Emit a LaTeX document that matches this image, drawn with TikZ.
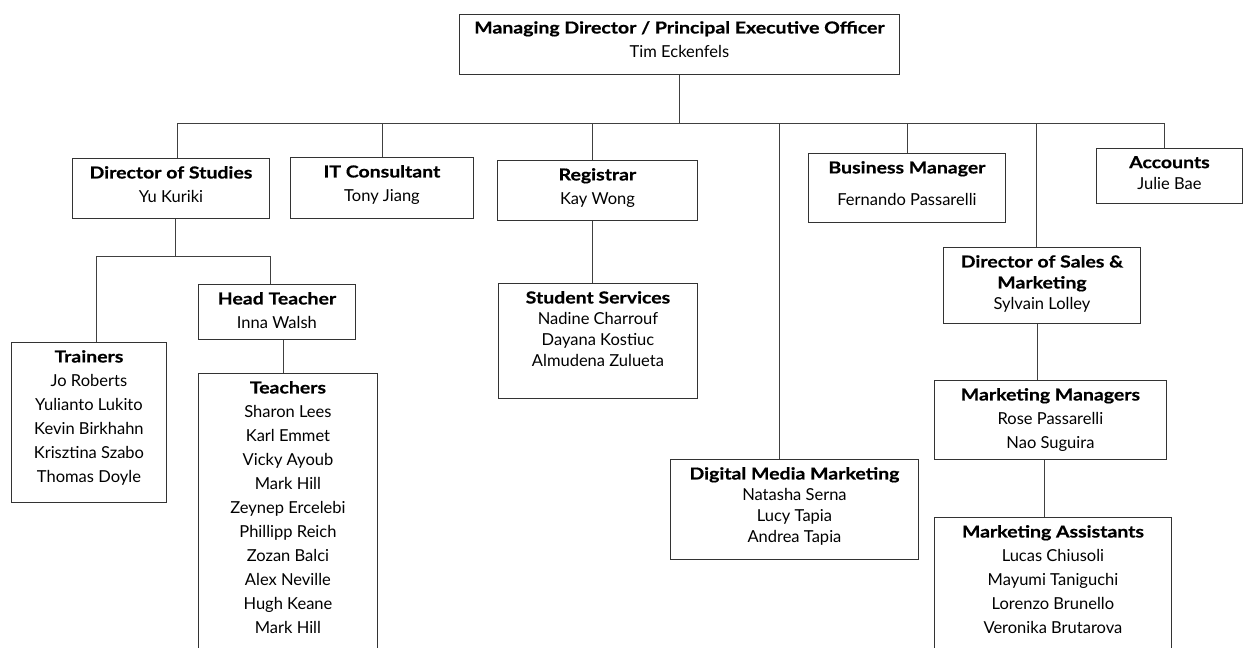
\documentclass[tikz,border=0pt]{standalone}
\usepackage{fontspec}
\setmainfont{Lato}[BoldFeatures={FakeStretch=1.18,FakeBold=0.6}]
\usetikzlibrary{positioning}
\tikzstyle{unit}=[draw=black!80, line width=0.9pt, anchor=north west, inner sep=0pt]
\tikzstyle{names}=[align=center, inner sep=0pt, font=\fontsize{16.5}{24}\selectfont]
\tikzstyle{tight}=[font=\fontsize{16.5}{21}\selectfont]
\tikzstyle{link}=[draw=black!75, line width=0.8pt]

\begin{document}
\begin{tikzpicture}[x=1pt, y=-1pt]
  \useasboundingbox (0,0) rectangle (1243,648);

  % boxes
  \node[unit, minimum width=440, minimum height=60] at (459,14) (md) {};
  \node[unit, minimum width=197, minimum height=60] at (72,158) (dos) {};
  \node[unit, minimum width=183, minimum height=61] at (290,157) (it) {};
  \node[unit, minimum width=200, minimum height=60] at (497,160) (reg) {};
  \node[unit, minimum width=197, minimum height=69] at (808,153) (bm) {};
  \node[unit, minimum width=146, minimum height=55] at (1096,148) (acc) {};
  \node[unit, minimum width=197, minimum height=76] at (943,247) (dosm) {};
  \node[unit, minimum width=155, minimum height=160] at (11,342) (tr) {};
  \node[unit, minimum width=157, minimum height=55] at (198,284) (ht) {};
  \node[unit, minimum width=179, minimum height=330] at (198,373) (tea) {};
  \node[unit, minimum width=199, minimum height=115] at (498,283) (ss) {};
  \node[unit, minimum width=248, minimum height=100] at (670,459) (dmm) {};
  \node[unit, minimum width=232, minimum height=79] at (934,380) (mm) {};
  \node[unit, minimum width=237, minimum height=183] at (934,517) (ma) {};

  % texts
  \node[names, below=7pt of md.north] (md-t) {\textbf{Managing Director / Principal Executive Officer}\\Tim Eckenfels};
  \node[names, below=8pt of dos.north] (dos-t) {\textbf{Director of Studies}\\Yu Kuriki};
  \node[names, below=8pt of it.north] (it-t) {\textbf{IT Consultant}\\Tony Jiang};
  \node[names, below=8pt of reg.north] (reg-t) {\textbf{Registrar}\\Kay Wong};
  \node[names, below=8pt of bm.north] (bm-t) {\textbf{Business Manager}\\[8pt]Fernando Passarelli};
  \node[names, tight, below=8pt of acc.north] (acc-t) {\textbf{Accounts}\\Julie Bae};
  \node[names, tight, below=8pt of dosm.north] (dosm-t) {\textbf{Director of Sales \&}\\\textbf{Marketing}\\Sylvain Lolley};
  \node[names, below=8pt of tr.north] (tr-t) {\textbf{Trainers}\\Jo Roberts\\Yulianto Lukito\\Kevin Birkhahn\\Krisztina Szabo\\Thomas Doyle};
  \node[names, below=8pt of ht.north] (ht-t) {\textbf{Head Teacher}\\Inna Walsh};
  \node[names, below=8pt of tea.north] (tea-t) {\textbf{Teachers}\\Sharon Lees\\Karl Emmet\\Vicky Ayoub\\Mark Hill\\Zeynep Ercelebi\\Phillipp Reich\\Zozan Balci\\Alex Neville\\Hugh Keane\\Mark Hill};
  \node[names, tight, below=8pt of ss.north] (ss-t) {\textbf{Student Services}\\Nadine Charrouf\\Dayana Kostiuc\\Almudena Zulueta};
  \node[names, tight, below=8pt of dmm.north] (dmm-t) {\textbf{Digital Media Marketing}\\Natasha Serna\\Lucy Tapia\\Andrea Tapia};
  \node[names, below=8pt of mm.north] (mm-t) {\textbf{Marketing Managers}\\Rose Passarelli\\Nao Suguira};
  \node[names, below=8pt of ma.north] (ma-t) {\textbf{Marketing Assistants}\\Lucas Chiusoli\\Mayumi Taniguchi\\Lorenzo Brunello\\Veronika Brutarova};

  % lines
  \coordinate (bar) at (680,123);
  \coordinate (dosbar) at (175,256);
  \draw[link] (md.south) -- (md.south |- bar);
  \draw[link] ([xshift=6.5pt]dos.north) -- ([xshift=6.5pt]dos.north |- bar) -- ([xshift=-5pt]acc.north |- bar) -- ([xshift=-5pt]acc.north);
  \draw[link] (it.north) -- (it.north |- bar);
  \draw[link] ([xshift=-5pt]reg.north) -- ([xshift=-5pt]reg.north |- bar);
  \draw[link] ([xshift=-15pt]dmm.north) -- ([xshift=-15pt]dmm.north |- bar);
  \draw[link] (bm.north) -- (bm.north |- bar);
  \draw[link] ([xshift=-5.5pt]dosm.north) -- ([xshift=-5.5pt]dosm.north |- bar);
  \draw[link] ([xshift=4.5pt]dos.south) -- ([xshift=4.5pt]dos.south |- dosbar);
  \draw[link] ([xshift=7.5pt]tr.north) -- ([xshift=7.5pt]tr.north |- dosbar) -- ([xshift=-6.5pt]ht.north |- dosbar) -- ([xshift=-6.5pt]ht.north);
  \draw[link] ([xshift=6.5pt]ht.south) -- ([xshift=6.5pt]ht.south |- tea.north);
  \draw[link] ([xshift=-5pt]reg.south) -- ([xshift=-5pt]reg.south |- ss.north);
  \draw[link] ([xshift=-4.5pt]dosm.south) -- ([xshift=-4.5pt]dosm.south |- mm.north);
  \draw[link] ([xshift=-6pt]mm.south) -- ([xshift=-6pt]mm.south |- ma.north);
\end{tikzpicture}
\end{document}
